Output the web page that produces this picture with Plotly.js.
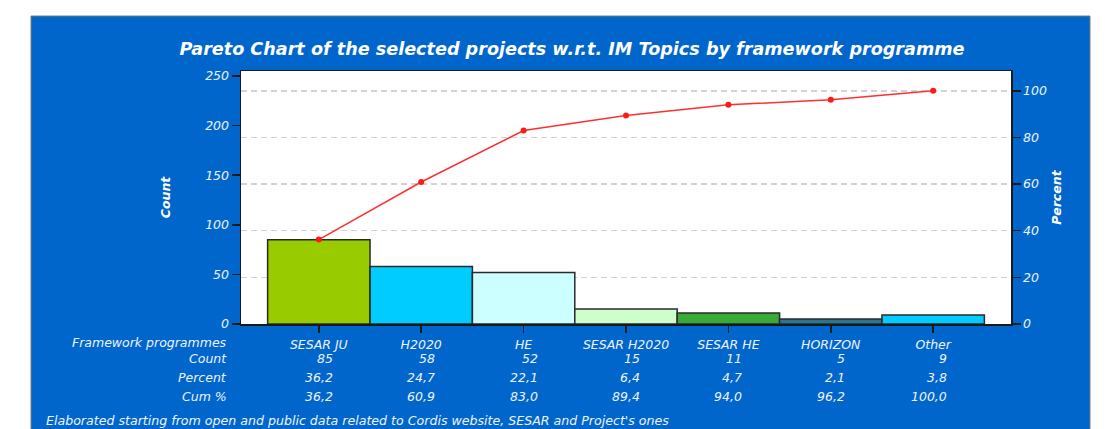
<!DOCTYPE html>
<html><head><meta charset="utf-8">
<script src="https://cdn.plot.ly/plotly-3.0.1.min.js"></script>
<style>html,body{margin:0;padding:0;background:#fff;overflow:hidden}#chart{width:1113px;height:429px;}</style>
</head><body><div id="chart"></div>
<script>
// ---- data ----
const categories = ['SESAR JU','H2020','HE','SESAR H2020','SESAR HE','HORIZON','Other'];
const counts = [85, 58, 52, 15, 11, 5, 9];
const percents = [36.2, 24.7, 22.1, 6.4, 4.7, 2.1, 3.8];
const cumPercents = [36.2, 60.9, 83.0, 89.4, 94.0, 96.2, 100.0];
const rowLabels = ['Framework programmes', 'Count', 'Percent', 'Cum %'];
const countTicks = [0, 50, 100, 150, 200, 250];
const percentTicks = [0, 20, 40, 60, 80, 100];
const titleText = 'Pareto Chart of the selected projects w.r.t. IM Topics by framework programme';
const footnote = "Elaborated starting from open and public data related to Cordis website, SESAR and Project's ones";

// ---- styles ----
const barColors = ['#99cc00', '#00ccff', '#ccffff', '#ccffcc', '#38aa38', '#267890', '#00ccff'];
const BLUE = '#0066cc';
const TXT = '#eef3fb';
const FONT = 'DejaVu Sans, Verdana, sans-serif';
const fmt = v => v.toFixed(1).replace('.', ',');

const total = counts.reduce((a, b) => a + b, 0);
const countMax = 255;
const pctMax = countMax / total * 100;

const ML = 241, MR = 102, MT = 71, MB = 105, W = 1113, H = 429;
const PW = W - ML - MR, PH = H - MT - MB;
const px = v => (v - ML) / PW;
const py = v => (H - MB - v) / PH;

const traces = [
  {
    type: 'bar', x: categories, y: counts, width: 1,
    marker: {color: barColors, line: {color: '#2a2a2a', width: 1.5}},
    hoverinfo: 'x+y', showlegend: false
  },
  {
    type: 'scatter', mode: 'lines+markers', x: categories, y: cumPercents, yaxis: 'y2',
    line: {color: '#ff3030', width: 1.5}, marker: {color: '#ff1a1a', size: 6},
    showlegend: false
  }
];

const annotations = [];
const rowShifts = [-18, -34, -53.5, -72.5];
rowLabels.forEach((t, r) => annotations.push({
  xref: 'paper', yref: 'paper', x: 0, y: 0, xshift: -12, yshift: rowShifts[r],
  xanchor: 'right', yanchor: 'middle', showarrow: false, text: t,
  font: {family: FONT, size: 12.5, color: TXT, style: 'italic'}
}));
const rowsData = [counts.map(String), percents.map(fmt), cumPercents.map(fmt)];
rowsData.forEach((row, r) => row.forEach((t, i) => annotations.push({
  xref: 'x', yref: 'paper', x: categories[i], y: 0, xshift: 16, yshift: rowShifts[r + 1],
  xanchor: 'right', yanchor: 'middle', showarrow: false, text: t,
  font: {family: FONT, size: 12.5, color: TXT, style: 'italic'}
})));
annotations.push({
  xref: 'paper', yref: 'paper', x: px(44), y: 0, yshift: -96.5,
  xanchor: 'left', yanchor: 'middle', showarrow: false, text: footnote,
  font: {family: FONT, size: 12.6, color: TXT, style: 'italic'}
});

const shapes = [
  {type: 'rect', xref: 'paper', yref: 'paper', layer: 'below', x0: px(-5), x1: px(31), y0: py(440), y1: py(-5), fillcolor: '#ffffff', line: {width: 0}},
  {type: 'rect', xref: 'paper', yref: 'paper', layer: 'below', x0: px(-5), x1: px(1120), y0: py(16), y1: py(-5), fillcolor: '#ffffff', line: {width: 0}},
  {type: 'rect', xref: 'paper', yref: 'paper', layer: 'below', x0: px(1090), x1: px(1120), y0: py(440), y1: py(-5), fillcolor: '#ffffff', line: {width: 0}},
  {type: 'rect', xref: 'paper', yref: 'paper', layer: 'below', x0: px(31), x1: px(1090), y0: py(440), y1: py(16), fillcolor: 'rgba(0,0,0,0)', line: {color: '#7a7a7a', width: 1}}
];

const tickFont = {family: FONT, size: 12.5, color: TXT, style: 'italic'};
const layout = {
  width: W, height: H,
  margin: {l: ML, r: MR, t: MT, b: MB, pad: 0},
  paper_bgcolor: BLUE, plot_bgcolor: '#ffffff',
  font: {family: FONT, color: TXT},
  title: {
    text: titleText, xref: 'container', yref: 'container', x: 572 / W, y: 1 - 49 / H,
    xanchor: 'center', yanchor: 'middle',
    font: {family: FONT, size: 17.6, color: '#ffffff', weight: 'bold', style: 'italic'}
  },
  bargap: 0,
  xaxis: {
    type: 'category', range: [-0.76, 6.76], fixedrange: true,
    showline: true, linecolor: '#1a1a1a', linewidth: 1.5, mirror: true,
    ticks: 'outside', ticklen: 7, tickwidth: 1.5, tickcolor: '#1a1a1a',
    tickfont: tickFont, showgrid: false, ticklabelstandoff: 1
  },
  yaxis: {
    range: [0, countMax], tickvals: countTicks, fixedrange: true,
    showline: true, linecolor: '#1a1a1a', linewidth: 1.5, mirror: true,
    ticks: 'outside', ticklen: 8, tickwidth: 1.5, tickcolor: '#1a1a1a',
    tickfont: tickFont, showgrid: false, zeroline: false,
    title: {text: 'Count', standoff: 32, font: {family: FONT, size: 12.5, color: '#ffffff', weight: 'bold', style: 'italic'}}
  },
  yaxis2: {
    overlaying: 'y', side: 'right', range: [0, pctMax], tickvals: percentTicks, fixedrange: true,
    showline: true, linecolor: '#1a1a1a', linewidth: 1.5,
    ticks: 'outside', ticklen: 8, tickwidth: 1.5, tickcolor: '#1a1a1a',
    tickfont: tickFont, zeroline: false,
    showgrid: true, gridcolor: '#d2d2d2', gridwidth: 1.5, griddash: '6px,4px',
    title: {text: 'Percent', standoff: 6, font: {family: FONT, size: 12.5, color: '#ffffff', weight: 'bold', style: 'italic'}}
  },
  annotations: annotations,
  shapes: shapes
};

Plotly.newPlot('chart', traces, layout, {displayModeBar: false, staticPlot: true});
</script>
</body></html>
